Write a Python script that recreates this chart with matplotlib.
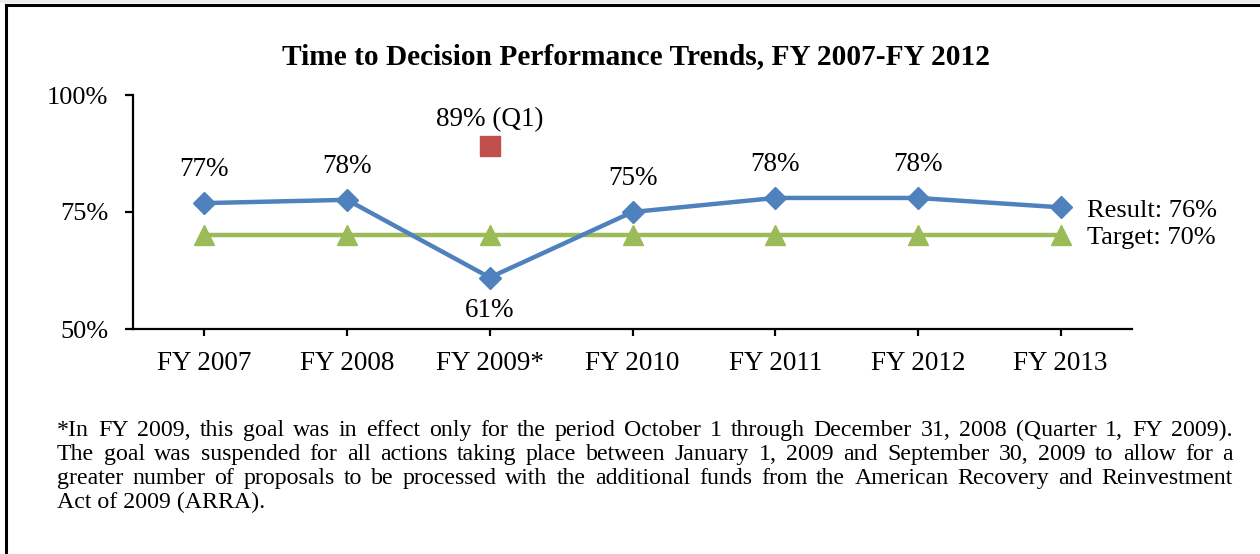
import matplotlib
matplotlib.use("Agg")
import matplotlib.pyplot as plt
from matplotlib.lines import Line2D
from matplotlib.patches import Rectangle

categories = ["FY 2007", "FY 2008", "FY 2009*", "FY 2010", "FY 2011", "FY 2012", "FY 2013"]
result = [76.9, 77.6, 61.0, 75.0, 78.0, 78.0, 76.0]
result_labels = ["77%", "78%", "61%", "75%", "78%", "78%", None]
target = [70, 70, 70, 70, 70, 70, 70]
q1_index = 2
q1_value = 89
y_ticks = [50, 75, 100]

BLUE = "#4F81BD"
GREEN = "#9BBB59"
RED = "#C0504D"
FONT = "Liberation Serif"
LS = 19.5

W, H = 1260, 554
fig = plt.figure(figsize=(W / 100, H / 100), dpi=100)
fig.patch.set_facecolor("white")

def px(x, y):
    return x / W, 1 - y / H

# frame
fig.add_artist(Rectangle((0, 1 - 3 / H), 1, 3 / H, transform=fig.transFigure,
                         facecolor="#ececec", edgecolor="none"))
fig.add_artist(Line2D([6 / W, 1], [1 - 4.5 / H, 1 - 4.5 / H], transform=fig.transFigure,
                      color="black", lw=2.2))
fig.add_artist(Line2D([6 / W, 6 / W], [0, 1 - 4.5 / H], transform=fig.transFigure,
                      color="black", lw=2.2))

l, b = 133 / W, 1 - 329 / H
ax = fig.add_axes([l, b, 1132 / W - l, (1 - 95 / H) - b])
x = list(range(len(categories)))

ax.plot(x, target, color=GREEN, lw=3.2, marker="^", ms=15, mfc=GREEN, mec=GREEN, zorder=3)
ax.plot(x, result, color=BLUE, lw=3.2, marker="D", ms=11, mfc=BLUE, mec=BLUE, zorder=4)
ax.plot([q1_index], [q1_value], linestyle="none", marker="s", ms=14, mfc=RED, mec=RED, zorder=5)

ax.set_xlim(-0.5, len(categories) - 0.5)
ax.set_ylim(50, 100)
ax.set_yticks(y_ticks)
ax.set_yticklabels([f"{v}%" for v in y_ticks])
ax.set_xticks(x)
ax.set_xticklabels(categories)

for s in ["top", "right"]:
    ax.spines[s].set_visible(False)
for s in ["left", "bottom"]:
    ax.spines[s].set_linewidth(1.6)
ax.tick_params(axis="y", direction="out", length=6, width=1.6, pad=12, labelsize=19)
ax.tick_params(axis="x", direction="out", length=5, width=1.6, pad=11, labelsize=LS)
for t in ax.get_xticklabels() + ax.get_yticklabels():
    t.set_fontfamily(FONT)

for i, (v, lab) in enumerate(zip(result, result_labels)):
    if lab is None:
        continue
    off = -24 if v < 70 else 24
    ax.annotate(lab, (i, v), xytext=(0, off), textcoords="offset points",
                ha="center", va="center", fontsize=LS, fontfamily=FONT)
ax.annotate(f"{q1_value}% (Q1)", (q1_index, q1_value), xytext=(0, 19), textcoords="offset points",
            ha="center", va="center", fontsize=LS, fontfamily=FONT)

last = len(categories) - 1
ax.annotate(f"Result: {result[last]:.0f}%", (last, result[last]), xytext=(19, -3),
            textcoords="offset points", ha="left", va="center", fontsize=19,
            fontfamily=FONT, annotation_clip=False)
ax.annotate(f"Target: {target[last]:.0f}%", (last, target[last]), xytext=(19, -2),
            textcoords="offset points", ha="left", va="center", fontsize=19,
            fontfamily=FONT, annotation_clip=False)

fig.text(*px(636, 57), "Time to Decision Performance Trends, FY 2007-FY 2012",
         ha="center", va="center", fontsize=21.2, fontweight="bold", fontfamily=FONT)

# footnote (justified)
foot_lines = [
    "*In FY 2009, this goal was in effect only for the period October 1 through December 31, 2008 (Quarter 1, FY 2009).",
    "The goal was suspended for all actions taking place between January 1, 2009 and September 30, 2009 to allow for a",
    "greater number of proposals to be processed with the additional funds from the American Recovery and Reinvestment",
    "Act of 2009 (ARRA).",
]
FS = 17.2
left_px, right_px = 57, 1233
y0, dy = 436, 24
renderer = fig.canvas.get_renderer()
for li, line in enumerate(foot_lines):
    yc = y0 + li * dy
    words = line.split(" ")
    if li == len(foot_lines) - 1:
        fig.text(*px(left_px, yc), line, ha="left", va="baseline", fontsize=FS, fontfamily=FONT)
        continue
    texts = [fig.text(0, 0, w, fontsize=FS, fontfamily=FONT, ha="left", va="baseline") for w in words]
    widths = [t.get_window_extent(renderer).width for t in texts]
    gap = (right_px - left_px - sum(widths)) / (len(words) - 1)
    xp = left_px
    for t, w in zip(texts, widths):
        t.set_position(px(xp, yc))
        xp += w + gap

fig.savefig("out.png", dpi=100, facecolor="white")
